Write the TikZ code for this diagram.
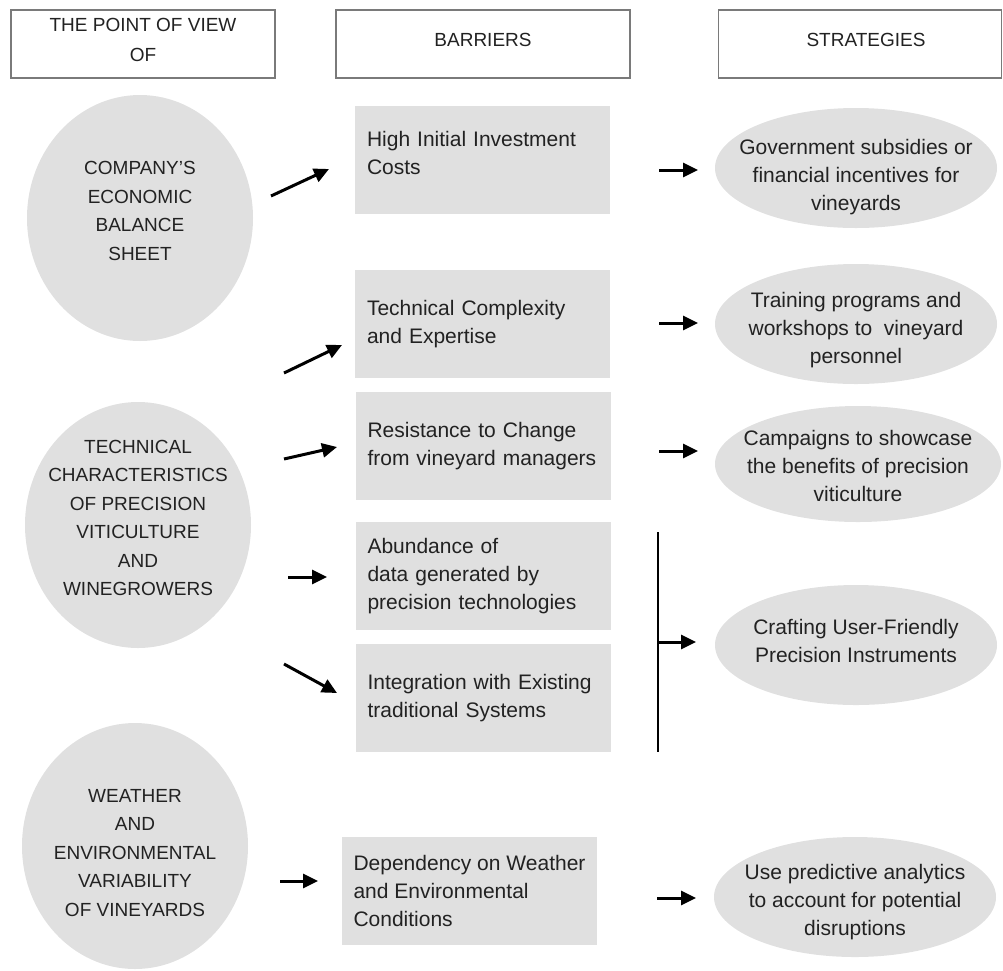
\documentclass[tikz,border=0pt]{standalone}
\usepackage{fontspec}
\setmainfont{Liberation Sans}
\usetikzlibrary{shapes.geometric,arrows.meta}
\definecolor{shade}{HTML}{E0E0E0}
\definecolor{hdrline}{HTML}{7A7A7A}
\definecolor{txt}{HTML}{222222}
\begin{document}
\begin{tikzpicture}[x=1pt,y=-1pt,
 hdr/.style={draw=hdrline, line width=1.2pt, fill=white, inner sep=0pt, align=center, font=\fontsize{19}{30}\selectfont, text=txt},
 pov/.style={ellipse, fill=shade, inner sep=0pt, minimum width=226pt, minimum height=246pt},
 povtext/.style={align=center, font=\fontsize{19}{28.5}\selectfont, text=txt, inner sep=0pt},
 barrier/.style={rectangle, fill=shade, minimum width=255pt, minimum height=108pt, text width=231pt, inner xsep=12pt, inner ysep=0pt, align=left, font=\fontsize{21}{28}\selectfont, text=txt},
 strat/.style={ellipse, fill=shade, inner sep=0pt, minimum width=282pt, minimum height=120pt},
 strattext/.style={align=center, font=\fontsize{21}{28}\selectfont, text=txt, inner sep=0pt},
 arr/.style={line width=3pt, -{Triangle[length=15pt,width=14pt]}},
 bracketline/.style={line width=2.4pt}]
\useasboundingbox (0,0) rectangle (1003,970);

% headers
\node[hdr, minimum width=264pt, minimum height=68pt] (h1) at (143,44) {THE POINT OF VIEW\\OF\\[-22pt]\mbox{}};
\node[hdr, minimum width=294pt, minimum height=68pt] (h2) at (483,44) {BARRIERS\\[-22pt]\mbox{}};
\node[hdr, minimum width=283pt, minimum height=68pt] (h3) at (860,44) {\hspace*{12pt}STRATEGIES\\[-22pt]\mbox{}};

% points of view
\node[pov] (p1) at (140,218) {};
\node[povtext] (p1t) at (140,211) {COMPANY'S\\ECONOMIC\\BALANCE\\SHEET};
\node[pov] (p2) at (138,525) {};
\node[povtext] (p2t) at (138,518) {TECHNICAL\\CHARACTERISTICS\\OF PRECISION\\VITICULTURE\\AND\\WINEGROWERS};
\node[pov] (p3) at (135,846) {};
\node[povtext] (p3t) at (135,853) {WEATHER\\AND\\ENVIRONMENTAL\\VARIABILITY\\OF VINEYARDS};

% barriers
\node[barrier] (b1) at (482.5,160) {High Initial Investment\\Costs\\[-14pt]\mbox{}};
\node[barrier] (b2) at (482.5,324) {Technical Complexity\\and Expertise};
\node[barrier] (b3) at (483,446) {Resistance to Change\\from vineyard managers};
\node[barrier] (b4) at (483,576) {Abundance of\\data generated by\\precision technologies};
\node[barrier] (b5) at (483,698) {Integration with Existing\\traditional Systems};
\node[barrier, text width=, inner xsep=0pt] (b6) at (469.5,890.5) {Dependency on Weather\\and Environmental\\Conditions};

% strategies
\node[strat] (s1) at (856,168) {};
\node[strattext] (s1t) at (856,177) {Government subsidies or\\financial incentives for\\vineyards};
\node[strat] (s2) at (856,324) {};
\node[strattext] (s2t) at (856,330) {Training programs and\\workshops to~ vineyard\\personnel};
\node[strat, minimum width=286pt, minimum height=116pt] (s3) at (858,464) {};
\node[strattext] (s3t) at (858,466) {Campaigns to showcase\\the benefits of precision\\viticulture};
\node[strat] (s4) at (856,645) {};
\node[strattext] (s4t) at (856,641) {Crafting User-Friendly\\Precision Instruments};
\node[strat] (s5) at (855,897) {};
\node[strattext] (s5t) at (855,902) {Use predictive analytics\\to account for potential\\disruptions};

% left arrows
\coordinate (a1s) at (271,196); \coordinate (a1e) at (329,169);
\coordinate (a2s) at (284,373); \coordinate (a2e) at (342,345);
\coordinate (a3s) at (284,459); \coordinate (a3e) at (337,447);
\coordinate (a4s) at (288,577); \coordinate (a4e) at (327,577);
\coordinate (a5s) at (284,664); \coordinate (a5e) at (337,693);
\coordinate (a6s) at (280,881); \coordinate (a6e) at (318,881);
\draw[arr] (a1s) -- (a1e);
\draw[arr] (a2s) -- (a2e);
\draw[arr] (a3s) -- (a3e);
\draw[arr] (a4s) -- (a4e);
\draw[arr] (a5s) -- (a5e);
\draw[arr] (a6s) -- (a6e);

% right arrows
\coordinate (r1s) at (659,170); \coordinate (r1e) at (698,170);
\coordinate (r2s) at (659,323); \coordinate (r2e) at (698,323);
\coordinate (r3s) at (659,451); \coordinate (r3e) at (698,451);
\coordinate (r5s) at (657,898); \coordinate (r5e) at (696,898);
\draw[arr] (r1s) -- (r1e);
\draw[arr] (r2s) -- (r2e);
\draw[arr] (r3s) -- (r3e);
\draw[arr] (r5s) -- (r5e);

% bracket
\coordinate (brtop) at (658,532);
\coordinate (brbot) at (658,752);
\coordinate (brmid) at (658,642);
\coordinate (brend) at (696,642);
\draw[bracketline] (brtop) -- (brbot);
\draw[arr] (brmid) -- (brend);
\end{tikzpicture}
\end{document}
